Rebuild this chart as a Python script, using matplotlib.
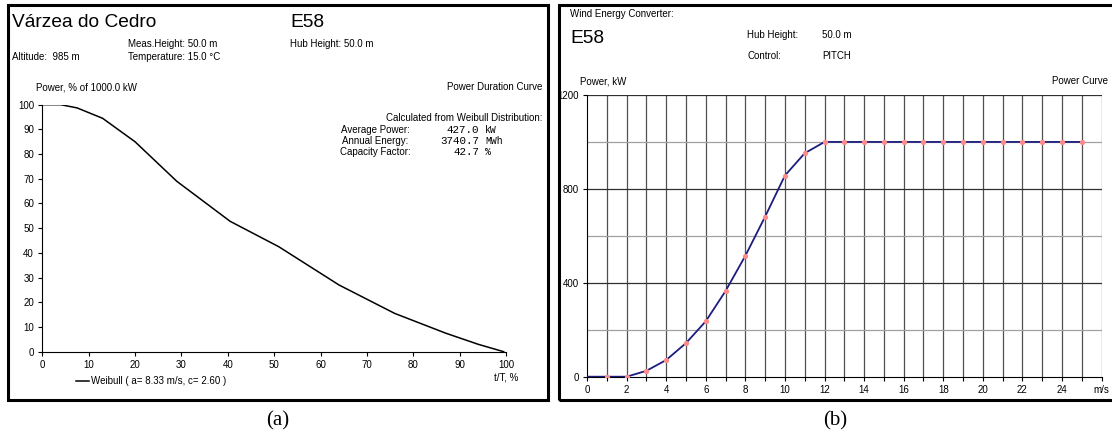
import matplotlib.pyplot as plt
from matplotlib.patches import Rectangle

W, H = 1112, 432

# power duration curve (a)
dur_t = [0, 4, 7.5, 13, 20, 29, 40.5, 51, 64, 76, 87, 94, 99.5]
dur_p = [100, 100, 98.7, 94.5, 85, 69, 52.8, 42.5, 27, 15.5, 7.5, 3, 0]

# power curve (b)
wind_speed = list(range(0, 26))
power_kw = [0, 0, 0, 25, 71, 143, 236, 365, 515, 682, 857, 952, 1000,
            1000, 1000, 1000, 1000, 1000, 1000, 1000, 1000, 1000, 1000, 1000, 1000, 1000]

stats_labels = ["Average Power:", "Annual Energy:", "Capacity Factor:"]
stats_values = ["427.0", "3740.7", "42.7"]
stats_units = ["kW", "MWh", "%"]


def px(x, y):
    return x / W, 1 - y / H


def ftext(fig, x, y, s, **kw):
    kw.setdefault("family", "Liberation Sans")
    kw.setdefault("fontsize", 7)
    kw.setdefault("va", "baseline")
    fx, fy = px(x, y)
    fig.text(fx, fy, s, **kw)


def axes_box(fig, x0, x1, y0, y1):
    # pixel box -> axes (x0 left, x1 right, y0 bottom, y1 top)
    return fig.add_axes([x0 / W, 1 - y0 / H, (x1 - x0) / W, (y0 - y1) / H])


def main():
    plt.rcParams["font.family"] = ["Liberation Sans", "DejaVu Sans"]
    fig = plt.figure(figsize=(W / 100, H / 100), dpi=100)

    # frames
    for (x0, x1) in [(8, 548), (559, 1118)]:
        fx0, fy0 = px(x0, 400)
        fx1, fy1 = px(x1, 5)
        fig.add_artist(Rectangle((fx0, fy0), fx1 - fx0, fy1 - fy0, transform=fig.transFigure,
                                 fill=False, edgecolor="black", linewidth=2.2))

    # ---------- (a) ----------
    ax = axes_box(fig, 42.3, 506, 351.7, 104.7)
    ax.plot(dur_t, dur_p, color="black", linewidth=1.1,
            label="Weibull ( a= 8.33 m/s, c= 2.60 )")
    ax.set_xlim(0, 100)
    ax.set_ylim(0, 100)
    ax.set_xticks(range(0, 101, 10))
    ax.set_yticks(range(0, 101, 10))
    for s in ["top", "right"]:
        ax.spines[s].set_visible(False)
    ax.tick_params(labelsize=7, length=3, width=0.8, pad=3)
    ax.legend(loc="upper left", bbox_to_anchor=(0.063, -0.08), frameon=False,
              fontsize=7, handlelength=1.3, handletextpad=0.25, borderpad=0)

    ftext(fig, 12, 27, "Várzea do Cedro", fontsize=13.8)
    ftext(fig, 290, 27, "E58", fontsize=13.8)
    ftext(fig, 128, 47, "Meas.Height: 50.0 m")
    ftext(fig, 290, 47, "Hub Height: 50.0 m")
    ftext(fig, 12, 60, "Altitude:  985 m")
    ftext(fig, 128, 60, "Temperature: 15.0 °C")
    ftext(fig, 36, 90, "Power, % of 1000.0 kW")
    ftext(fig, 542, 90, "Power Duration Curve", ha="right")
    ftext(fig, 542, 121, "Calculated from Weibull Distribution:", ha="right")
    for i, (lab, val, unit) in enumerate(zip(stats_labels, stats_values, stats_units)):
        y = 133 + i * 11
        ftext(fig, 375, y, lab, ha="center")
        ftext(fig, 479, y, val, ha="right", family="Liberation Mono", fontsize=7.8)
        ftext(fig, 485, y, unit, ha="left", family="Liberation Mono", fontsize=7)
    ftext(fig, 506, 380, "t/T, %", ha="center")
    ftext(fig, 278, 425, "(a)", family="Liberation Serif", fontsize=15, ha="center")

    # ---------- (b) ----------
    bx = axes_box(fig, 587, 1101.6, 376.7, 95)
    bx.set_xlim(0, 26)
    bx.set_ylim(0, 1200)
    for v in range(1, 27):
        bx.axvline(v, color="#505050", linewidth=0.9, zorder=1)
    for v in range(200, 1201, 200):
        c = "#303030" if v % 400 == 0 else "#a0a0a0"
        bx.axhline(v, color=c, linewidth=0.9, zorder=1)
    bx.plot(wind_speed, power_kw, color="#1c1c80", linewidth=1.3, zorder=3)
    bx.plot(wind_speed[1:], power_kw[1:], linestyle="none", marker="o", markersize=3.8,
            markerfacecolor="#ff8a8a", markeredgecolor="none", zorder=4)
    bx.set_xticks(range(0, 27))
    bx.set_xticklabels([("m/s" if v == 26 else str(v)) if v % 2 == 0 else "" for v in range(27)])
    bx.set_yticks([0, 400, 800, 1200])
    for s in ["top", "right"]:
        bx.spines[s].set_visible(False)
    bx.tick_params(labelsize=7, length=3, width=0.8, pad=3)

    ftext(fig, 570, 17, "Wind Energy Converter:")
    ftext(fig, 570, 43, "E58", fontsize=13.8)
    ftext(fig, 747, 38, "Hub Height:")
    ftext(fig, 822, 38, "50.0 m")
    ftext(fig, 747, 59, "Control:")
    ftext(fig, 822, 59, "PITCH")
    ftext(fig, 580, 84, "Power, kW")
    ftext(fig, 1108, 84, "Power Curve", ha="right")
    ftext(fig, 835, 425, "(b)", family="Liberation Serif", fontsize=15, ha="center")

    fig.savefig("out.png", dpi=100)


if __name__ == "__main__":
    main()
